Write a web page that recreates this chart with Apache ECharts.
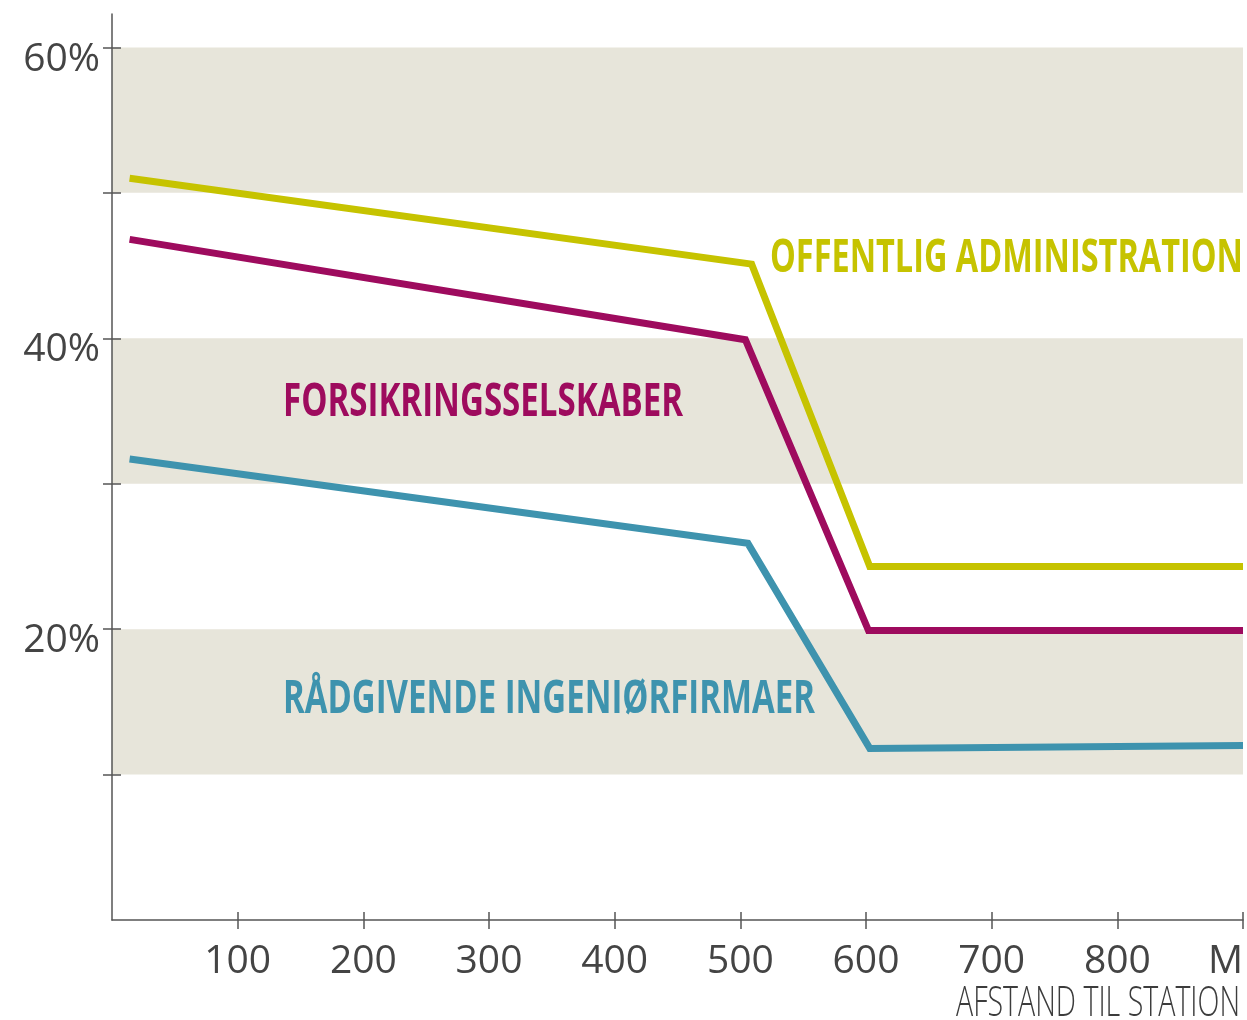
<!DOCTYPE html>
<html>
<head>
<meta charset="utf-8">
<script src="https://cdn.jsdelivr.net/npm/echarts@6/dist/echarts.min.js"></script>
<style>
  html, body { margin: 0; padding: 0; background: #fff; }
  #chart { width: 1247px; height: 1020px; }
</style>
</head>
<body>
<div id="chart"></div>
<script>
// distance to station (m) and share of employees (%)
var offentligX = [14, 509, 603, 900];
var offentligY = [51.0, 45.1, 24.3, 24.3];
var forsikringX = [14, 504, 602, 900];
var forsikringY = [46.8, 39.9, 19.9, 19.9];
var raadgivendeX = [14, 506, 603, 900];
var raadgivendeY = [31.7, 25.9, 11.8, 12.0];

var seriesNames = ["OFFENTLIG ADMINISTRATION", "FORSIKRINGSSELSKABER", "RÅDGIVENDE INGENIØRFIRMAER"];
var xTickValues = [100, 200, 300, 400, 500, 600, 700, 800, 900];
var yTickValues = [10, 20, 30, 40, 50, 60];
var yLabelValues = [20, 40, 60];
var bands = [[10, 20], [30, 40], [50, 60]];
var xTitle = "AFSTAND TIL STATION";

var colors = ["#c6c300", "#9e0b5e", "#3e93ae"];

function pairs(xs, ys) {
  return xs.map(function (x, i) { return [x, ys[i]]; });
}

// squeeze text horizontally so it looks like the condensed face in the original
var measureCtx = document.createElement("canvas").getContext("2d");
function fitScale(text, font, width) {
  measureCtx.font = font;
  return width / measureCtx.measureText(text).width;
}

function condensedText(text, x, y, width, size, weight, color, align) {
  var font = weight + " " + size + "px 'Open Sans'";
  return {
    type: "text",
    x: x,
    y: y,
    scaleX: fitScale(text, font, width),
    silent: true,
    z: 100,
    style: {
      text: text,
      fill: color,
      fontFamily: "Open Sans",
      fontWeight: weight,
      fontSize: size,
      textAlign: align,
      textVerticalAlign: "middle"
    }
  };
}

var myChart = echarts.init(document.getElementById("chart"));

var axisColor = "#555";
var labelFont = {
  fontFamily: "Open Sans",
  fontWeight: "normal",
  fontSize: 39,
  color: "#444"
};

var option = {
  animation: false,
  backgroundColor: "#fff",
  grid: { left: 112, right: 4, top: 14, bottom: 100 },
  xAxis: [
    {
      type: "value",
      min: 0,
      max: 900,
      interval: 100,
      axisLine: { lineStyle: { color: axisColor, width: 1.5 } },
      axisTick: { customValues: xTickValues, length: 9, lineStyle: { color: axisColor, width: 1.5 } },
      axisLabel: Object.assign({
        customValues: xTickValues,
        margin: 22,
        alignMaxLabel: "right",
        formatter: function (v) { return v === 900 ? "M" : String(v); }
      }, labelFont),
      splitLine: { show: false }
    },
    {
      type: "value",
      position: "bottom",
      min: 0,
      max: 900,
      interval: 100,
      axisLine: { show: false },
      axisTick: { inside: true, customValues: xTickValues, length: 8, lineStyle: { color: axisColor, width: 1.5 } },
      axisLabel: { show: false },
      splitLine: { show: false }
    }
  ],
  yAxis: [
    {
      type: "value",
      min: 0,
      max: 62.3,
      interval: 10,
      axisLine: { show: true, lineStyle: { color: axisColor, width: 1.5 } },
      axisTick: { show: true, customValues: yTickValues, length: 9, lineStyle: { color: axisColor, width: 1.5 } },
      axisLabel: {
        customValues: yLabelValues,
        margin: 12,
        formatter: function (v) { return "{p|" + v + "%}"; },
        rich: { p: Object.assign({ padding: [24, 0, 0, 0] }, labelFont) }
      },
      splitLine: { show: false }
    },
    {
      type: "value",
      position: "left",
      min: 0,
      max: 62.3,
      interval: 10,
      axisLine: { show: false },
      axisTick: { show: true, inside: true, customValues: yTickValues, length: 9, lineStyle: { color: axisColor, width: 1.5 } },
      axisLabel: { show: false },
      splitLine: { show: false }
    }
  ],
  series: [
    {
      name: seriesNames[0],
      type: "line",
      data: pairs(offentligX, offentligY),
      symbol: "none",
      z: 3,
      lineStyle: { color: colors[0], width: 7, join: "miter" },
      markArea: {
        silent: true,
        z: 0,
        itemStyle: { color: "#e7e5da" },
        data: bands.map(function (b) { return [{ yAxis: b[0] }, { yAxis: b[1] }]; })
      }
    },
    {
      name: seriesNames[1],
      type: "line",
      data: pairs(forsikringX, forsikringY),
      symbol: "none",
      z: 3,
      lineStyle: { color: colors[1], width: 7, join: "miter" }
    },
    {
      name: seriesNames[2],
      type: "line",
      data: pairs(raadgivendeX, raadgivendeY),
      symbol: "none",
      z: 3,
      lineStyle: { color: colors[2], width: 7, join: "miter" }
    }
  ],
  graphic: [
    condensedText(seriesNames[0], 770, 259, 473, 46, "bold", colors[0], "left"),
    condensedText(seriesNames[1], 283, 403, 400, 46, "bold", colors[1], "left"),
    condensedText(seriesNames[2], 283, 700, 532, 46, "bold", colors[2], "left"),
    condensedText(xTitle, 1240, 1004, 284, 42, "300", "#3c3c3c", "right")
  ]
};

myChart.setOption(option);
</script>
</body>
</html>
